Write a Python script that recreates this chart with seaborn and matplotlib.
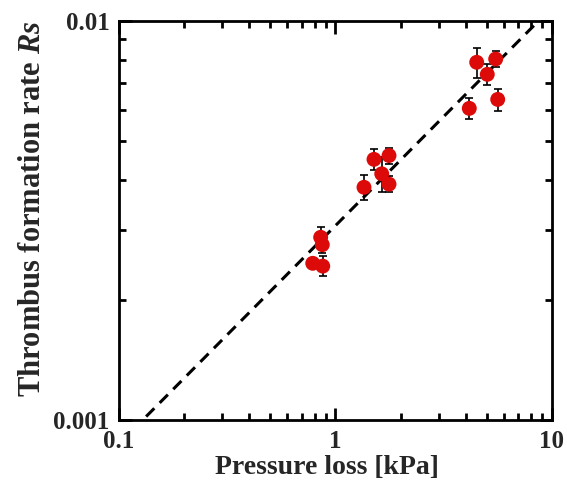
import numpy as np
import pandas as pd
import matplotlib
matplotlib.use("Agg")
import matplotlib.pyplot as plt
import seaborn as sns
from matplotlib.ticker import LogLocator, NullFormatter, FixedFormatter

# ---- data ----
pressure_loss = [0.785, 0.854, 0.869, 0.873, 1.354, 1.506, 1.635, 1.767, 1.767,
                 4.15, 4.49, 5.025, 5.495, 5.614]
rs = [0.00247, 0.00287, 0.00275, 0.00243, 0.00383, 0.00450, 0.00414, 0.00460, 0.00390,
      0.00604, 0.00788, 0.00735, 0.00803, 0.00636]
rs_err = [0.00005, 0.00017, 0.00013, 0.00014, 0.00028, 0.00028, 0.00041, 0.00021, 0.00018,
          0.00036, 0.00068, 0.00045, 0.00037, 0.00040]

# power-law fit  Rs = a * dP^k
fit_a = 0.00307
fit_k = 0.547

x_ticks = [0.1, 1, 10]
x_ticklabels = ["0.1", "1", "10"]
y_ticks = [0.001, 0.01]
y_ticklabels = ["0.001", "0.01"]

df = pd.DataFrame({"dp": pressure_loss, "rs": rs, "err": rs_err})

# ---- style ----
sns.set_theme(style="ticks")
plt.rcParams['font.family'] = ['Liberation Serif', 'DejaVu Serif']
plt.rcParams['font.weight'] = 'bold'
plt.rcParams['mathtext.fontset'] = 'custom'
plt.rcParams['mathtext.bfit'] = 'Liberation Serif:bold:italic'
plt.rcParams['mathtext.it'] = 'Liberation Serif:italic'
plt.rcParams['mathtext.rm'] = 'Liberation Serif'

fig = plt.figure(figsize=(5.67, 4.87), dpi=100)
ax = fig.add_axes([0.2099, 0.1376, 0.7636, 0.8193])

# fit line
xf = np.logspace(-1, 1, 200)
ax.plot(xf, fit_a * xf ** fit_k, color='black', lw=2.2, dashes=(3.8, 2.5), zorder=1)

# error bars
ax.errorbar(df["dp"], df["rs"], yerr=df["err"], fmt='none', ecolor='black',
            elinewidth=1.2, capsize=3, capthick=1.2, zorder=2)

# points
sns.scatterplot(data=df, x="dp", y="rs", ax=ax, color='#dd0a0a', s=115,
                edgecolor='none', zorder=3, legend=False)

ax.set_xscale('log')
ax.set_yscale('log')
ax.set_xlim(0.1, 10)
ax.set_ylim(0.001, 0.01)

ax.xaxis.set_major_locator(plt.FixedLocator(x_ticks))
ax.xaxis.set_major_formatter(FixedFormatter(x_ticklabels))
ax.yaxis.set_major_locator(plt.FixedLocator(y_ticks))
ax.yaxis.set_major_formatter(FixedFormatter(y_ticklabels))
ax.xaxis.set_minor_locator(LogLocator(base=10, subs=np.arange(2, 10)))
ax.yaxis.set_minor_locator(LogLocator(base=10, subs=np.arange(2, 10)))
ax.xaxis.set_minor_formatter(NullFormatter())
ax.yaxis.set_minor_formatter(NullFormatter())

ax.tick_params(which='both', direction='in', top=True, right=True,
               color='black', width=2)
ax.tick_params(which='major', length=9, labelsize=18, pad=7)
ax.tick_params(which='minor', length=5)
for lab in ax.get_xticklabels() + ax.get_yticklabels():
    lab.set_fontweight('bold')

for sp in ax.spines.values():
    sp.set_linewidth(2)
    sp.set_color('black')

ax.set_xlabel("Pressure loss [kPa]", fontsize=20, fontweight='bold', labelpad=2)
ax.set_ylabel(r"Thrombus formation rate $\mathbfit{Rs}$", fontsize=22,
              fontweight='bold', labelpad=4)
# labels sit a little off-centre in the original
ax.xaxis.label.set_x(0.48)
ax.yaxis.label.set_y(0.53)

fig.savefig("out.png", dpi=100)
